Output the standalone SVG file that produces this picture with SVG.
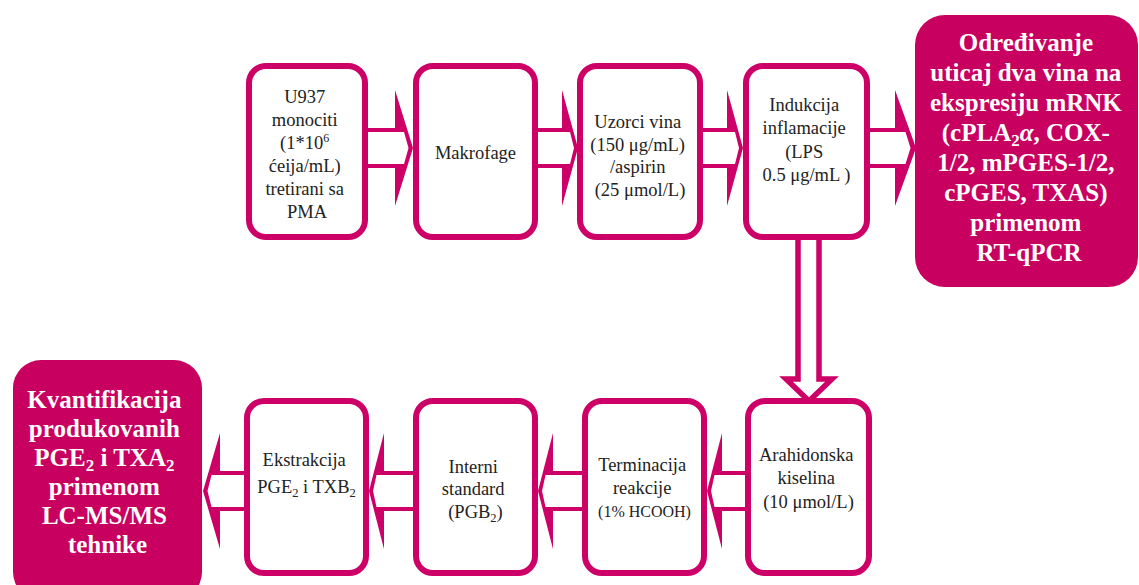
<svg xmlns="http://www.w3.org/2000/svg" width="1139" height="585" viewBox="0 0 1139 585">
  <style>
    .box { fill: #ffffff; stroke: #CC0066; stroke-width: 6; }
    .res { fill: #C8005F; stroke: none; }
    .lbl { font-family: "Liberation Serif", "Times New Roman", serif; font-size: 18.5px; fill: #222222; text-anchor: middle; }
    .big { font-family: "Liberation Serif", "Times New Roman", serif; font-size: 25px; font-weight: bold; fill: #ffffff; text-anchor: middle; }
    .outer { fill: #CC0066; }
    .inner { fill: #ffffff; }
    .varr { fill: #ffffff; stroke: #CC0066; stroke-width: 5.5; stroke-linejoin: miter; }
  </style>

  <!-- connectors: block arrows -->
  <g id="connectors">
    <!-- top row, pointing right -->
    <polygon class="outer" points="367,128 395,128 395,90 413,148 395,206 395,168 367,168"/>
    <polygon class="inner" points="368,132 404,132 408.5,148 404,164 368,164"/>

    <polygon class="outer" points="537,128 562,128 562,90 578,148 562,206 562,168 537,168"/>
    <polygon class="inner" points="538,132 570,132 574,148 570,164 538,164"/>

    <polygon class="outer" points="702,128 727,128 727,90 743,148 727,206 727,168 702,168"/>
    <polygon class="inner" points="703,132 735,132 739,148 735,164 703,164"/>

    <polygon class="outer" points="869,128 895,128 895,90 916,148 895,206 895,168 869,168"/>
    <polygon class="inner" points="870,132 905.5,132 910.5,148 905.5,164 870,164"/>

    <!-- vertical arrow down to the lower row -->
    <polygon class="varr" points="798,237 819,237 819,379 832,379 809,401 786,379 798,379"/>

    <!-- bottom row, pointing left -->
    <polygon class="outer" points="746,471 722,471 722,433 707,491 722,549 722,511 746,511"/>
    <polygon class="inner" points="745,475 714.5,475 711,491 714.5,507 745,507"/>

    <polygon class="outer" points="583,471 553,471 553,433 538,491 553,549 553,511 583,511"/>
    <polygon class="inner" points="582,475 545.5,475 542,491 545.5,507 582,507"/>

    <polygon class="outer" points="414,471 384,471 384,433 369,491 384,549 384,511 414,511"/>
    <polygon class="inner" points="413,475 376.5,475 373,491 376.5,507 413,507"/>

    <polygon class="outer" points="245,471 220,471 220,433 203,491 220,549 220,511 245,511"/>
    <polygon class="inner" points="244,475 211.5,475 207.5,491 211.5,507 244,507"/>
  </g>

  <!-- top row -->
  <g id="n-u937">
    <rect class="box" x="249" y="66" width="116" height="171" rx="17"/>
    <text class="lbl">
      <tspan x="307" y="103">U937</tspan>
      <tspan x="307" y="126">monociti</tspan>
      <tspan x="307" y="149">(1*10<tspan font-size="12" dy="-7">6</tspan></tspan>
      <tspan x="307" y="172">ćeija/mL)</tspan>
      <tspan x="307" y="195">tretirani  sa</tspan>
      <tspan x="307" y="218">PMA</tspan>
    </text>
  </g>

  <g id="n-makrofage">
    <rect class="box" x="416" y="66" width="119" height="171" rx="17"/>
    <text class="lbl" x="475.5" y="159">Makrofage</text>
  </g>

  <g id="n-uzorci">
    <rect class="box" x="580" y="66" width="120" height="171" rx="17"/>
    <text class="lbl">
      <tspan x="640" y="128">Uzorci  vina</tspan>
      <tspan x="640" y="151">(150 μg/mL)</tspan>
      <tspan x="640" y="173">/aspirin</tspan>
      <tspan x="640" y="196">(25 μmol/L)</tspan>
    </text>
  </g>

  <g id="n-indukcija">
    <rect class="box" x="746" y="66" width="121" height="171" rx="17"/>
    <text class="lbl">
      <tspan x="806.5" y="111">Indukcija</tspan>
      <tspan x="806.5" y="134">inflamacije</tspan>
      <tspan x="806.5" y="158">(LPS</tspan>
      <tspan x="806.5" y="181">0.5 μg/mL )</tspan>
    </text>
  </g>

  <g id="n-mrnk">
    <rect class="res" x="915" y="15" width="223" height="272" rx="30"/>
    <text class="big">
      <tspan x="1029" y="51">Određivanje</tspan>
      <tspan x="1029" y="81">uticaj  dva vina na</tspan>
      <tspan x="1029" y="111">ekspresiju  mRNK</tspan>
      <tspan x="1029" y="141">(cPLA<tspan font-size="17" dy="5">2</tspan><tspan dy="-5" font-style="italic">α</tspan>, COX-</tspan>
      <tspan x="1029" y="171">1/2, mPGES-1/2,</tspan>
      <tspan x="1029" y="201">cPGES, TXAS)</tspan>
      <tspan x="1029" y="231">primenom</tspan>
      <tspan x="1029" y="261">RT-qPCR</tspan>
    </text>
  </g>

  <!-- bottom row -->
  <g id="n-arahidonska">
    <rect class="box" x="748" y="401" width="121" height="172" rx="17"/>
    <text class="lbl">
      <tspan x="808.5" y="461">Arahidonska</tspan>
      <tspan x="808.5" y="484">kiselina</tspan>
      <tspan x="808.5" y="508">(10 μmol/L)</tspan>
    </text>
  </g>

  <g id="n-terminacija">
    <rect class="box" x="585" y="401" width="119" height="172" rx="17"/>
    <text class="lbl">
      <tspan x="644.5" y="471">Terminacija</tspan>
      <tspan x="644.5" y="494">reakcije</tspan>
      <tspan x="644.5" y="517" font-size="16">(1% HCOOH)</tspan>
    </text>
  </g>

  <g id="n-interni">
    <rect class="box" x="416" y="401" width="119" height="172" rx="17"/>
    <text class="lbl">
      <tspan x="475.5" y="473">Interni</tspan>
      <tspan x="475.5" y="495">standard</tspan>
      <tspan x="475.5" y="518">(PGB<tspan font-size="12.5" dy="4">2</tspan><tspan dy="-4">)</tspan></tspan>
    </text>
  </g>

  <g id="n-ekstrakcija">
    <rect class="box" x="247" y="401" width="119" height="172" rx="17"/>
    <text class="lbl">
      <tspan x="306.5" y="466">Ekstrakcija</tspan>
      <tspan x="306.5" y="493">PGE<tspan font-size="12.5" dy="4">2</tspan><tspan dy="-4"> i TXB</tspan><tspan font-size="12.5" dy="4">2</tspan></tspan>
    </text>
  </g>

  <g id="n-kvantifikacija">
    <rect class="res" x="13" y="360" width="189" height="240" rx="28"/>
    <text class="big">
      <tspan x="107.5" y="408">Kvantifikacija</tspan>
      <tspan x="107.5" y="437">produkovanih</tspan>
      <tspan x="107.5" y="466">PGE<tspan font-size="17" dy="5">2</tspan><tspan dy="-5"> i  TXA</tspan><tspan font-size="17" dy="5">2</tspan></tspan>
      <tspan x="107.5" y="495">primenom</tspan>
      <tspan x="107.5" y="524">LC-MS/MS</tspan>
      <tspan x="107.5" y="553">tehnike</tspan>
    </text>
  </g>
</svg>
